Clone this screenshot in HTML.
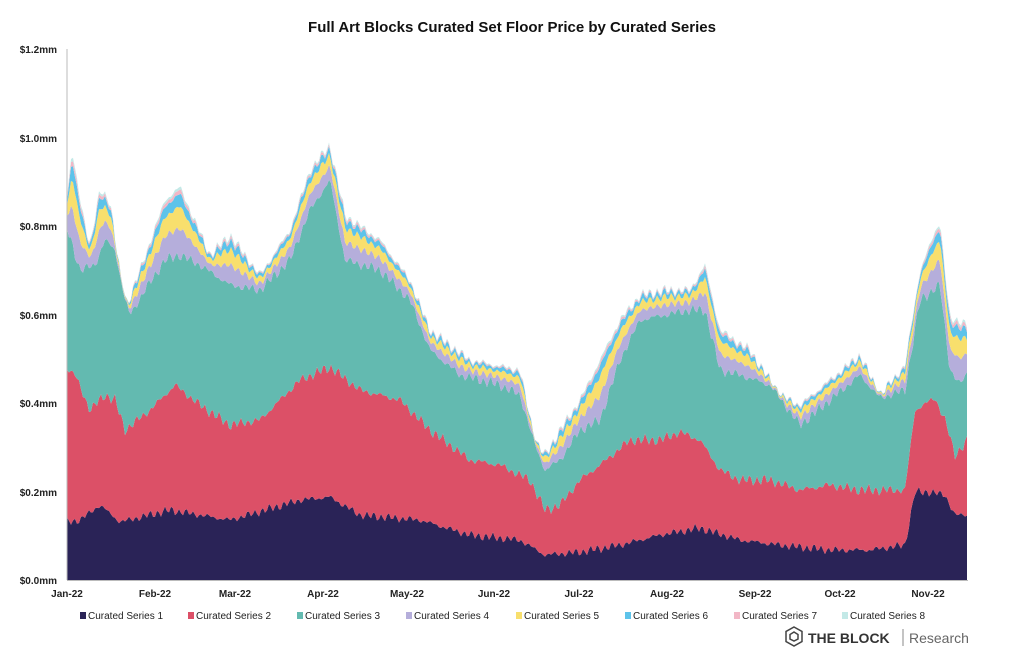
<!DOCTYPE html>
<html><head><meta charset="utf-8"><style>
body{margin:0;background:#fff;width:1024px;height:658px;overflow:hidden;font-family:"Liberation Sans",sans-serif}
</style></head><body>
<svg id="c" width="1024" height="658" xmlns="http://www.w3.org/2000/svg" style="position:absolute;left:0;top:0">
<rect width="1024" height="658" fill="#fff"/>
<text x="512" y="32" text-anchor="middle" font-size="15" font-weight="bold" fill="#111">Full Art Blocks Curated Set Floor Price by Curated Series</text>
<g font-size="10" font-weight="bold" fill="#222" text-anchor="end">
<text x="57" y="53">$1.2mm</text><text x="57" y="142">$1.0mm</text><text x="57" y="230">$0.8mm</text>
<text x="57" y="319">$0.6mm</text><text x="57" y="407">$0.4mm</text><text x="57" y="496">$0.2mm</text><text x="57" y="584">$0.0mm</text>
</g>
<g id="areas"></g>
<line x1="67" y1="49" x2="67" y2="580" stroke="#bbb" stroke-width="1"/>
<line x1="67" y1="580.5" x2="968" y2="580.5" stroke="#bbb" stroke-width="1"/>
<g font-size="10" font-weight="bold" fill="#222" text-anchor="middle">
<text x="67" y="597">Jan-22</text><text x="155" y="597">Feb-22</text><text x="235" y="597">Mar-22</text>
<text x="323" y="597">Apr-22</text><text x="407" y="597">May-22</text><text x="494" y="597">Jun-22</text>
<text x="579" y="597">Jul-22</text><text x="667" y="597">Aug-22</text><text x="755" y="597">Sep-22</text>
<text x="840" y="597">Oct-22</text><text x="928" y="597">Nov-22</text>
</g>
<g font-size="10" fill="#222" id="leg"></g>
<g transform="translate(785,627)" fill="none" stroke="#444" stroke-width="1.5">
<polygon points="9,0 17,4.5 17,14.5 9,19 1,14.5 1,4.5"/><polygon points="9,5 13,7.5 13,12 9,14 5,12 5,7.5"/>
</g>
<text x="808" y="643" font-size="14" font-weight="bold" fill="#333">THE BLOCK</text>
<line x1="903" y1="629" x2="903" y2="646" stroke="#888"/>
<text x="909" y="643" font-size="14" fill="#666">Research</text>
</svg>
<script>
var colors=["#2a2357","#dc5067","#63bab0","#b5aedb","#f8df6d","#5dc3ea","#f2b7c6","#c3e9e7"];
var names=["Curated Series 1","Curated Series 2","Curated Series 3","Curated Series 4","Curated Series 5","Curated Series 6","Curated Series 7","Curated Series 8"];
var S1=[[67,522],[80,520],[100,505],[120,522],[170,510],[230,520],[300,500],[330,497],[360,515],[420,520],[470,535],[520,540],[545,555],[580,552],[620,545],[660,535],[700,528],[740,540],[780,545],[830,550],[870,550],[905,545],[915,492],[930,492],[945,495],[955,515],[968,515]];
var S2=[[67,368],[75,375],[90,410],[105,395],[115,400],[125,430],[150,410],[175,385],[200,405],[230,425],[260,420],[300,380],[330,367],[360,390],[400,400],[430,430],[470,460],[500,465],[530,480],[545,510],[560,505],[580,480],[600,465],[630,440],[660,440],[680,432],[700,440],[720,470],[740,480],[770,480],[800,490],[830,485],[860,490],[905,490],[915,410],[935,398],[945,420],[955,455],[968,440]];
var S3=[[67,228],[80,270],[95,265],[105,240],[115,250],[125,300],[130,315],[145,290],[165,260],[180,255],[200,265],[230,285],[260,290],[290,260],[310,210],[330,180],[345,260],[380,270],[410,300],[430,350],[460,375],[500,385],[520,395],[535,445],[545,470],[560,460],[580,430],[600,420],[620,360],[640,320],[665,315],[690,310],[705,310],[720,370],[740,375],[770,385],[800,425],[830,400],[860,375],[880,398],[905,390],[920,300],[940,285],[950,370],[960,385],[968,370]];
var T=[[67,195],[72,150],[80,200],[90,245],[100,190],[110,200],[125,310],[140,270],[165,200],[180,187],[210,255],[230,235],[260,275],[290,230],[310,170],[330,145],[345,215],[380,240],[410,280],[430,330],[470,360],[520,370],[535,440],[545,455],[560,430],[580,400],[620,320],[640,295],[665,290],[690,290],[705,265],[720,330],[750,350],[780,395],[800,405],[830,380],[860,355],[880,395],[905,365],[920,270],[940,220],[950,320],[960,320],[968,325]];
function interp(p,x){for(var i=1;i<p.length;i++){if(x<=p[i][0]){var a=p[i-1],b=p[i];var t=(x-a[0])/(b[0]-a[0]);return a[1]+t*(b[1]-a[1]);}}return p[p.length-1][1];}
function nz(x,s){return 3*Math.sin(x*0.9+s)+2*Math.sin(x*2.3+s*2)+1.5*Math.sin(x*0.31+s*3);}
var xs=[];for(var x=67;x<=968;x+=2)xs.push(x);
var fr=[0,0.4,0.72,0.9,0.96,1.0];
var B=[];
xs.forEach(function(x){
 var b1=interp(S1,x)+nz(x,1)*0.8,b2=interp(S2,x)+nz(x,2),b3=interp(S3,x)+nz(x,3),t=interp(T,x)+nz(x,4);
 b2=Math.min(b2,b1-2);b3=Math.min(b3,b2-2);t=Math.min(t,b3-4);
 var arr=[b1,b2,b3];var d=b3-t;
 for(var k=1;k<6;k++)arr.push(b3-d*fr[k]);
 B.push(arr);
});
var g=document.getElementById("areas"),ns="http://www.w3.org/2000/svg";
for(var L=0;L<8;L++){
 var d="";
 for(var i=0;i<xs.length;i++)d+=(i?"L":"M")+xs[i]+","+B[i][L].toFixed(1);
 for(var i=xs.length-1;i>=0;i--)d+="L"+xs[i]+","+(L?B[i][L-1]:580).toFixed(1);
 var p=document.createElementNS(ns,"path");p.setAttribute("d",d+"Z");p.setAttribute("fill",colors[L]);g.appendChild(p);
}
var lg=document.getElementById("leg"),lx=[80,188,297,406,516,625,734,842];
for(var k=0;k<8;k++){
 var r=document.createElementNS(ns,"rect");r.setAttribute("x",lx[k]);r.setAttribute("y",612);r.setAttribute("width",6);r.setAttribute("height",7);r.setAttribute("fill",colors[k]);lg.appendChild(r);
 var t=document.createElementNS(ns,"text");t.setAttribute("x",lx[k]+8);t.setAttribute("y",619);t.textContent=names[k];lg.appendChild(t);
}
</script>
</body></html>
